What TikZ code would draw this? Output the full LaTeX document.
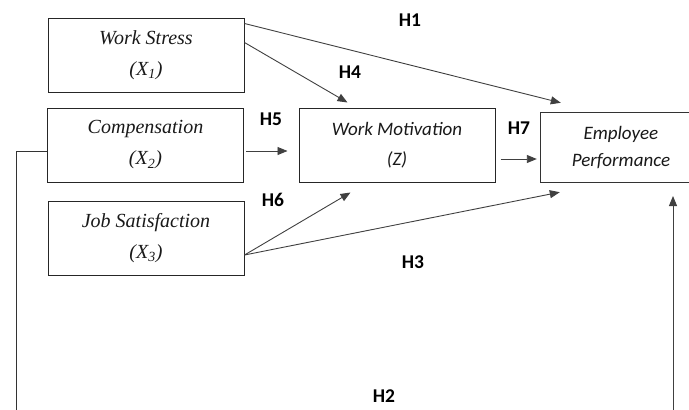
\documentclass[tikz,border=0pt]{standalone}
\usepackage{fontspec}
\setmainfont{Liberation Serif}
\newfontfamily\calib{Carlito}
\usetikzlibrary{arrows.meta}
\begin{document}
\begin{tikzpicture}[x=1pt,y=-1pt,
  boxline/.style={draw=black!85, line width=1pt},
  varbox/.style={boxline, minimum width=196pt, minimum height=74pt, inner sep=0pt, align=center,
    font=\fontsize{20}{31}\selectfont\itshape, text=black!90},
  midbox/.style={boxline, minimum width=196pt, minimum height=74pt, inner sep=0pt, align=center,
    font=\calib\itshape\fontsize{19}{30}\selectfont, text=black!90},
  hlabel/.style={font=\calib\bfseries\fontsize{19.5}{22}\selectfont},
  link/.style={draw=black!75, line width=0.9pt, -{Triangle[length=10pt,width=8pt]}},
  conn/.style={draw=black!80, line width=1pt},
]
\useasboundingbox (0,0) rectangle (689,410);
\node[varbox] (ws) at (146,55) {Work Stress\\(X\textsubscript{1})};
\node[varbox] (comp) at (145.5,145) {Compensation\\(X\textsubscript{2})};
\node[varbox] (js) at (146,238) {Job Satisfaction\\(X\textsubscript{3})};
\node[midbox] (wm) at (397,145) {Work Motivation\\(Z)};
\node[minimum width=160pt, minimum height=69pt, inner sep=0pt, align=center,
  font=\calib\itshape\fontsize{19}{27}\selectfont, text=black!90] (epbox) at (621,147.5) {Employee\\Performance};
\draw[conn] (epbox.north east) -- (epbox.north west) -- (epbox.south west) -- (epbox.south east);

\draw[link] ([yshift=-6pt]ws.north east) -- ([xshift=20pt,yshift=10pt]epbox.north west);
\draw[link] ([yshift=-25pt]ws.north east) -- ([xshift=49pt,yshift=5pt]wm.north west);
\draw[link] ([xshift=2pt,yshift=-6pt]comp.east) -- ([xshift=-11pt,yshift=-6pt]wm.west);
\draw[link] ([xshift=5pt,yshift=-14pt]wm.east) -- ([xshift=-4pt,yshift=-11.5pt]epbox.west);
\draw[link] ([yshift=-17pt]js.east) -- ([xshift=52pt,yshift=-10pt]wm.south west);
\draw[link] ([yshift=-17pt]js.east) -- ([xshift=19pt,yshift=-10pt]epbox.south west);

\coordinate (h2a) at (16,415);
\coordinate (h2b) at (673,415);
\coordinate (h2tip) at (673,196);
\draw[conn] ([yshift=-6pt]comp.west) -| (h2a);
\draw[link] (h2b) -- (h2tip);

\node[hlabel] (l1) at (410,20) {H1};
\node[hlabel] (l4) at (350,72) {H4};
\node[hlabel] (l5) at (271,119) {H5};
\node[hlabel] (l6) at (273,200) {H6};
\node[hlabel] (l7) at (519,128) {H7};
\node[hlabel] (l3) at (413,262) {H3};
\node[hlabel] (l2) at (384,396) {H2};
\end{tikzpicture}
\end{document}
